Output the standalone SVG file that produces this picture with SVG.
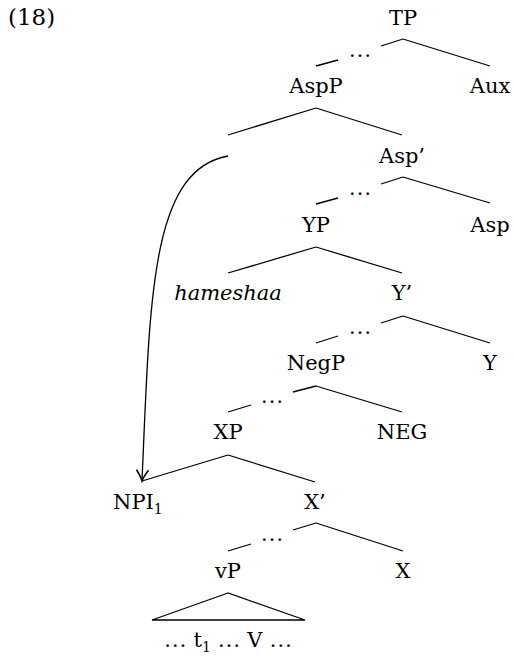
<svg xmlns="http://www.w3.org/2000/svg" width="514" height="656" viewBox="0 0 514 656">
<defs>
<style>
text{font-family:"DejaVu Serif","Liberation Serif",serif;font-size:21px;fill:#000;text-anchor:middle}
.it{font-style:italic}
.sub{font-size:14px}
.el{font-family:"Liberation Serif",serif;font-size:23px}
.e line,.e polygon,.e path{stroke:#000;stroke-width:1.3;fill:none}
</style>
<marker id="arr" viewBox="-13 -7 15 14" markerWidth="15" markerHeight="14" refX="0" refY="0" orient="auto" markerUnits="userSpaceOnUse">
<path d="M-11,-6 Q-4,-1.2 0,0 Q-4,1.2 -11,6" fill="none" stroke="#000" stroke-width="1.5"/>
</marker>
</defs>
<rect width="514" height="656" fill="#fff"/>
<text x="8" y="25" style="text-anchor:start;font-size:23px">(18)</text>
<g id="TP"><text x="403" y="25">TP</text></g>
<g id="AspP"><text x="316" y="93">AspP</text></g>
<g id="Aux"><text x="490" y="93">Aux</text></g>
<g id="AspBar"><text x="402" y="163">Asp’</text></g>
<g id="YP"><text x="316" y="232">YP</text></g>
<g id="Asp"><text x="490" y="232">Asp</text></g>
<g id="hameshaa"><text class="it" x="228" y="300">hameshaa</text></g>
<g id="YBar"><text x="402" y="300">Y’</text></g>
<g id="NegP"><text x="316" y="370">NegP</text></g>
<g id="Y"><text x="490" y="370">Y</text></g>
<g id="XP"><text x="228" y="439">XP</text></g>
<g id="NEG"><text x="402" y="439">NEG</text></g>
<g id="NPI"><text x="113" y="509" style="text-anchor:start">NPI<tspan class="sub" dy="5">1</tspan></text></g>
<g id="XBar"><text x="315" y="509">X’</text></g>
<g id="vP"><text x="228" y="578">vP</text></g>
<g id="X"><text x="403" y="578">X</text></g>
<g id="vPcontent"><text x="228" y="647"><tspan class="el">…</tspan> t<tspan class="sub" dy="5">1</tspan><tspan dy="-5"> </tspan><tspan class="el">…</tspan> V <tspan class="el">…</tspan></text></g>
<g id="dots">
<text class="el" x="360" y="57">…</text>
<text class="el" x="360" y="195">…</text>
<text class="el" x="360" y="334">…</text>
<text class="el" x="272" y="403">…</text>
<text class="el" x="272" y="541">…</text>
</g>
<g id="connectors" class="e">
<line x1="403" y1="39" x2="381" y2="46"/>
<line x1="338" y1="60" x2="316" y2="66"/>
<line x1="403" y1="39" x2="490" y2="66"/>
<line x1="316" y1="108" x2="228" y2="135"/>
<line x1="316" y1="108" x2="402" y2="135"/>
<line x1="403" y1="177" x2="381" y2="184"/>
<line x1="338" y1="198" x2="316" y2="204"/>
<line x1="403" y1="177" x2="490" y2="203"/>
<line x1="316" y1="247" x2="228" y2="273"/>
<line x1="316" y1="247" x2="402" y2="273"/>
<line x1="403" y1="316" x2="381" y2="323"/>
<line x1="338" y1="336" x2="316" y2="343"/>
<line x1="403" y1="316" x2="490" y2="343"/>
<line x1="316" y1="386" x2="293" y2="392"/>
<line x1="251" y1="405" x2="228" y2="412"/>
<line x1="316" y1="386" x2="402" y2="412"/>
<line x1="228" y1="455" x2="142" y2="481"/>
<line x1="228" y1="455" x2="315" y2="482"/>
<line x1="316" y1="523" x2="293" y2="530"/>
<line x1="251" y1="544" x2="228" y2="551"/>
<line x1="316" y1="523" x2="403" y2="551"/>
<polygon points="228,593 152,620 305,620"/>
<path d="M228,156 C150,170 150,300 142,481" marker-end="url(#arr)"/>
</g>
</svg>
